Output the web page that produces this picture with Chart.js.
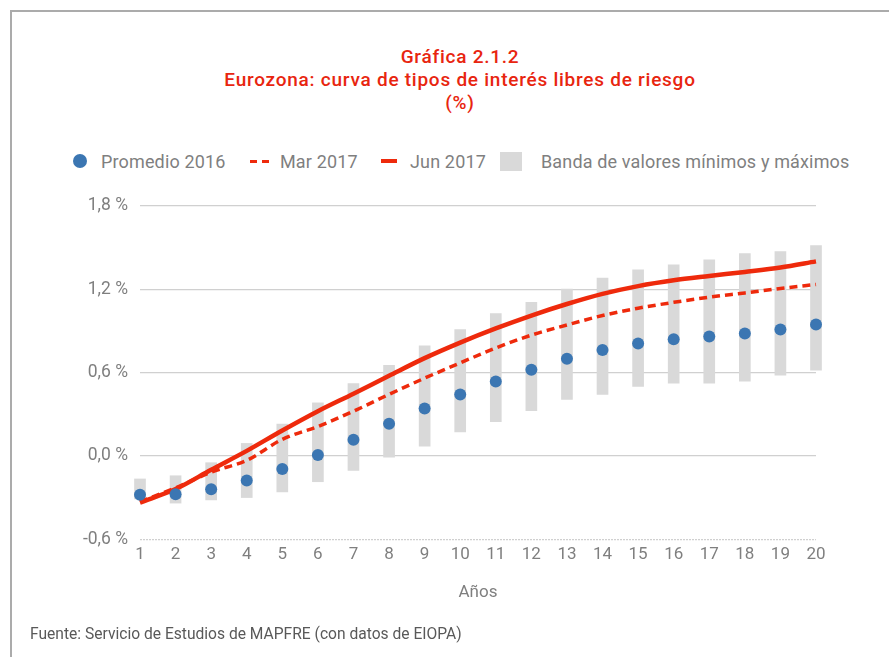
<!DOCTYPE html>
<html>
<head>
<meta charset="utf-8">
<script src="https://cdn.jsdelivr.net/npm/chart.js@4/dist/chart.umd.min.js"></script>
<style>
  html, body { margin: 0; padding: 0; background: #fff; }
  body { width: 889px; height: 657px; position: relative; overflow: hidden; font-family: Roboto, "Liberation Sans", sans-serif; }
  .frame { position: absolute; left: 10px; top: 10px; width: 880px; height: 660px; border-top: 2px solid #ababab; border-left: 2px solid #ababab; box-sizing: border-box; }
  .title { position: absolute; left: 30px; width: 860px; top: 45px; text-align: center; color: #e8250f; font-size: 19px; letter-spacing: 0.75px; font-weight: 500; line-height: 23px; }
  .leg { position: absolute; top: 152px; height: 20px; color: #7f7f7f; font-size: 18px; letter-spacing: 0.15px; line-height: 20px; white-space: nowrap; }
  .ico { position: absolute; }
  .foot { position: absolute; left: 30px; top: 625px; color: #595959; font-size: 15.6px; line-height: 18px; white-space: nowrap; }
  #wrap { position: absolute; left: 0; top: 0; width: 889px; height: 657px; }
</style>
</head>
<body>
<div class="frame"></div>
<div class="title">Gráfica 2.1.2<br>Eurozona: curva de tipos de interés libres de riesgo<br>(%)</div>

<div class="ico" style="left:73px;top:154px;width:14px;height:14px;border-radius:50%;background:#3b76b2;"></div>
<div class="leg" style="left:101px;">Promedio 2016</div>
<div class="ico" style="left:250px;top:160px;width:7px;height:3px;background:#ee2a0c;"></div>
<div class="ico" style="left:262px;top:160px;width:7px;height:3px;background:#ee2a0c;"></div>
<div class="leg" style="left:280px;">Mar 2017</div>
<div class="ico" style="left:381px;top:159px;width:16px;height:4px;background:#ee2a0c;"></div>
<div class="leg" style="left:410px;">Jun 2017</div>
<div class="ico" style="left:500px;top:152px;width:22px;height:19px;background:#d9d9d9;"></div>
<div class="leg" style="left:541px;">Banda de valores mínimos y máximos</div>

<div id="wrap"><canvas id="c"></canvas></div>
<div class="foot">Fuente: Servicio de Estudios de MAPFRE (con datos de EIOPA)</div>

<script>
const years = ['1','2','3','4','5','6','7','8','9','10','11','12','13','14','15','16','17','18','19','20'];
const promedio2016 = [-0.28,-0.276,-0.24,-0.178,-0.095,0.007,0.117,0.231,0.341,0.443,0.536,0.621,0.699,0.762,0.809,0.841,0.86,0.882,0.911,0.947];
const mar2017 = [-0.33,-0.23,-0.117,-0.032,0.119,0.212,0.322,0.443,0.56,0.67,0.777,0.87,0.943,1.011,1.064,1.106,1.143,1.174,1.206,1.235];
const jun2017 = [-0.336,-0.239,-0.1,0.036,0.183,0.322,0.448,0.577,0.704,0.816,0.918,1.011,1.094,1.167,1.223,1.265,1.296,1.325,1.357,1.401];
const bandaMin = [-0.31,-0.34,-0.317,-0.30,-0.259,-0.186,-0.105,-0.01,0.07,0.173,0.246,0.326,0.406,0.443,0.501,0.523,0.523,0.538,0.582,0.617];
const bandaMax = [-0.166,-0.143,-0.049,0.09,0.229,0.382,0.521,0.653,0.792,0.909,1.026,1.106,1.201,1.281,1.34,1.377,1.413,1.457,1.472,1.515];
const yTicks = [-0.6, 0.0, 0.6, 1.2, 1.8];

const red = '#ee2a0c';
const grey = '#7f7f7f';
const fontFam = 'Roboto, "Liberation Sans", sans-serif';

const banda = bandaMin.map((v, i) => [v, bandaMax[i]]);

new Chart(document.getElementById('c'), {
  type: 'bar',
  data: {
    labels: years,
    datasets: [
      { type: 'line', label: 'Promedio 2016', data: promedio2016, showLine: false,
        pointRadius: 6, pointHoverRadius: 6, pointBackgroundColor: '#3b76b2', pointBorderWidth: 0, order: 0, clip: false },
      { type: 'line', label: 'Jun 2017', data: jun2017, borderColor: red, borderWidth: 4.5,
        pointRadius: 0, tension: 0.4, cubicInterpolationMode: 'monotone', fill: false, order: 1, clip: false },
      { type: 'line', label: 'Mar 2017', data: mar2017, borderColor: red, borderWidth: 3.5, borderDash: [8, 5],
        pointRadius: 0, tension: 0.4, cubicInterpolationMode: 'monotone', fill: false, order: 2, clip: false },
      { type: 'bar', label: 'Banda de valores mínimos y máximos', data: banda, backgroundColor: '#d9d9d9',
        barThickness: 11, order: 3, clip: false }
    ]
  },
  options: {
    responsive: true,
    maintainAspectRatio: false,
    animation: false,
    layout: { padding: { top: 206, left: 0, right: 73, bottom: 50 } },
    plugins: { legend: { display: false }, tooltip: { enabled: false }, title: { display: false } },
    scales: {
      x: {
        offset: false,
        grid: { display: false, drawTicks: false },
        border: { display: false },
        ticks: { color: grey, font: { family: fontFam, size: 17 }, padding: 5, maxRotation: 0, autoSkip: false },
        title: { display: true, text: 'Años', color: grey, font: { family: fontFam, size: 17 }, padding: { top: 13, bottom: 4 } }
      },
      y: {
        min: -0.6, max: 1.8,
        afterBuildTicks: s => { s.ticks = yTicks.map(v => ({ value: v })); },
        afterFit: s => { s.width = 140; },
        grid: { color: '#d0d0d0', lineWidth: 1.3, drawTicks: false },
        border: { display: false, dash: ctx => (ctx.tick && ctx.tick.value === -0.6) ? [2, 1] : [] },
        ticks: { color: grey, font: { family: fontFam, size: 17.5 }, padding: 12,
          callback: v => v.toFixed(1).replace('.', ',') + ' %' }
      }
    }
  }
});
</script>
</body>
</html>
